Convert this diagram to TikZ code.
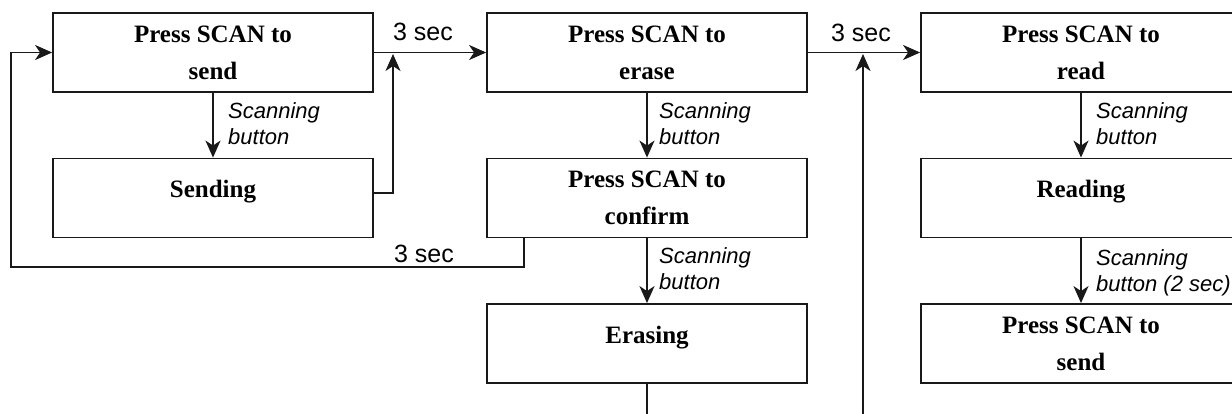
\documentclass[tikz,border=0pt]{standalone}
\usepackage{fontspec}
\setmainfont{Liberation Serif}
\newfontfamily\arialf{Liberation Sans}
\usetikzlibrary{arrows.meta}
\begin{document}
\begin{tikzpicture}[x=1pt,y=-1pt,
  box/.style={draw=black!90, line width=1.8pt, minimum width=320pt, minimum height=79pt, inner sep=0pt, align=center, font=\fontsize{25pt}{37pt}\selectfont\bfseries},
  oneline/.style={text height=17pt, text depth=18pt},
  arr/.style={draw=black!90, line width=1.8pt, -{Stealth[length=17pt,width=15pt,inset=5pt]}},
  wire/.style={draw=black!90, line width=1.8pt},
  lbl/.style={inner sep=0pt, align=left, anchor=north west, font=\arialf\itshape\fontsize{22pt}{26.5pt}\selectfont},
  sec/.style={inner sep=0pt, anchor=base, font=\arialf\fontsize{25pt}{30pt}\selectfont}]
\useasboundingbox (0,0) rectangle (1232,414);
\clip (0,0) rectangle (1232,414);
\fill[white] (0,0) rectangle (1232,414);

% boxes
\node[box] (s1) at (213,52.5) {Press SCAN to\\send};
\node[box,oneline] (sending) at (213,198) {Sending};
\node[box] (e1) at (647,52.5) {Press SCAN to\\erase};
\node[box] (conf) at (647,198) {Press SCAN to\\confirm};
\node[box,oneline] (erasing) at (647,343.5) {Erasing};
\node[box] (r1) at (1081,52.5) {Press SCAN to\\read};
\node[box,oneline] (reading) at (1081,198) {Reading};
\node[box] (s2) at (1081,343.5) {Press SCAN to\\send};

% vertical arrows
\draw[arr] (s1) -- (sending);
\draw[arr] (e1) -- (conf);
\draw[arr] (conf) -- (erasing);
\draw[arr] (r1) -- (reading);
\draw[arr] (reading) -- (s2);

% horizontal arrows
\draw[arr] (s1) -- (e1);
\draw[arr] (e1) -- (r1);

% feedback connectors
\coordinate (j1) at (393,54);
\draw[arr] ([yshift=5pt]sending.east) -| (j1);
\coordinate (c1) at (11,267);
\draw[arr] ([xshift=38pt]conf.south west) |- (c1) |- (s1.west);
\coordinate (j2) at (863,54);
\coordinate (b2) at (863,440);
\draw[arr] (b2) -- (j2);
\coordinate (b1) at (647,440);
\draw[wire] (erasing) -- (b1);

% labels
\node[lbl] (l1) at (228,102) {Scanning\\button};
\node[lbl] (l2) at (659,102) {Scanning\\button};
\node[lbl] (l3) at (659,247) {Scanning\\button};
\node[lbl] (l4) at (1096,102) {Scanning\\button};
\node[lbl] (l5) at (1096,249) {Scanning\\button (2 sec)};
\node[sec] (t1) at (423,41) {3 sec};
\node[sec] (t2) at (861,42) {3 sec};
\node[sec] (t3) at (424,262) {3 sec};
\end{tikzpicture}
\end{document}
